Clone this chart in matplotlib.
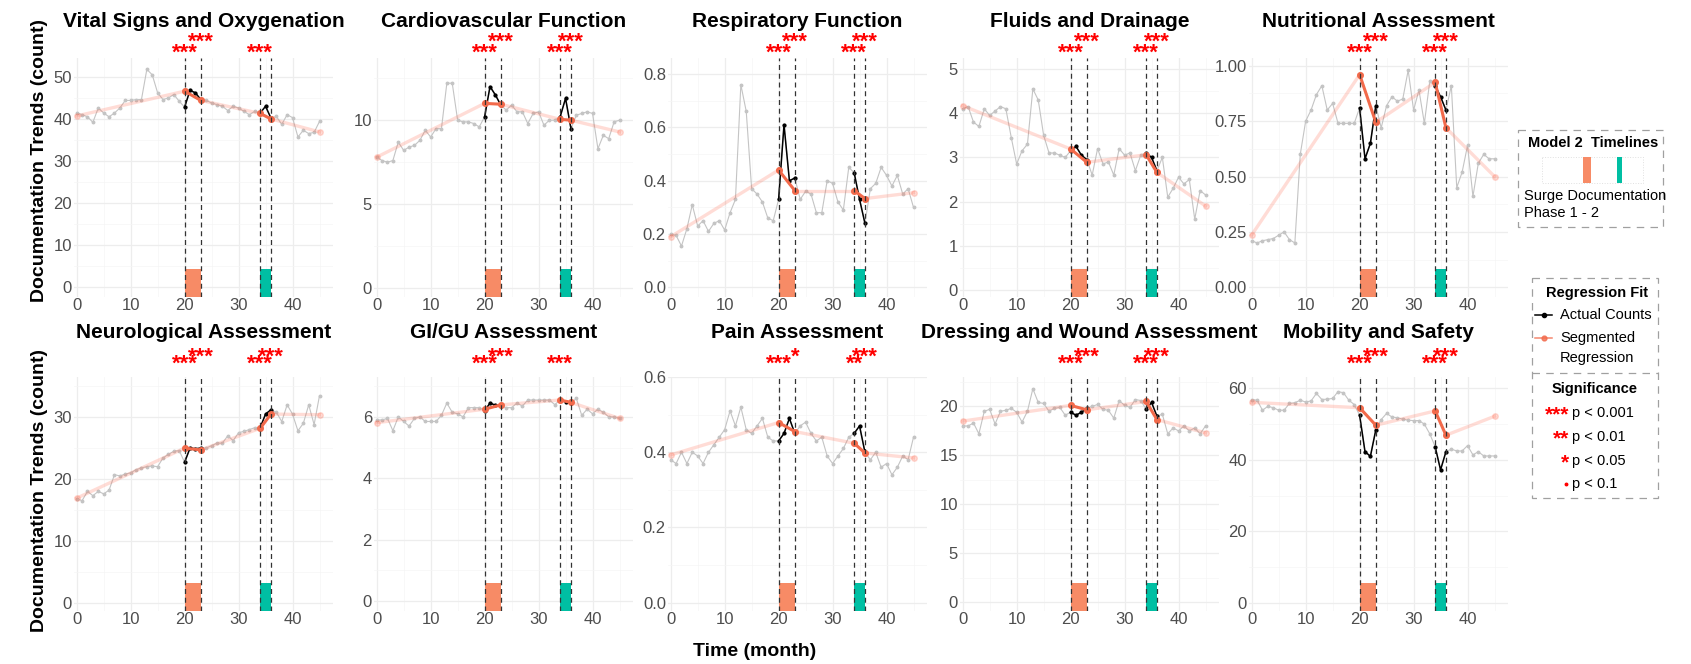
import numpy as np
import matplotlib
matplotlib.use("Agg")
import matplotlib.pyplot as plt
from matplotlib.patches import Rectangle
from matplotlib.ticker import MultipleLocator, FormatStrFormatter
from matplotlib.transforms import blended_transform_factory

plt.rcParams['font.family'] = ['Liberation Sans', 'DejaVu Sans']

# ---------------- data ----------------
months = np.arange(46)
knots = [0, 20, 23, 34, 36, 45]          # segmented regression break points
phase1 = (20, 23)                        # surge documentation phase 1
phase2 = (34, 36)                        # surge documentation phase 2

titles = ["Vital Signs and Oxygenation", "Cardiovascular Function", "Respiratory Function",
          "Fluids and Drainage", "Nutritional Assessment", "Neurological Assessment",
          "GI/GU Assessment", "Pain Assessment", "Dressing and Wound Assessment",
          "Mobility and Safety"]

vital = [41.5, 41.0, 40.5, 39.2, 42.6, 41.4, 40.5, 41.4, 42.6, 44.4, 44.4, 44.6, 44.6, 51.8,
         50.5, 46.2, 44.6, 45.0, 45.8, 44.2, 42.8, 46.8, 46.2, 44.6, 44.4, 43.8, 43.4, 43.0,
         42.0, 43.0, 42.6, 41.8, 41.0, 41.8, 41.4, 43.0, 40.2, 40.6, 38.7, 41.0, 40.3, 35.7,
         37.3, 36.5, 36.8, 39.4]
cardio = [7.8, 7.6, 7.5, 7.6, 8.7, 8.2, 8.4, 8.5, 8.8, 9.4, 9.0, 9.5, 9.5, 12.2, 12.2, 10.0,
          9.9, 9.9, 9.8, 9.6, 10.2, 12.0, 11.5, 10.9, 10.6, 10.9, 10.5, 10.5, 9.8, 10.4, 10.5,
          9.7, 10.0, 10.0, 10.2, 11.3, 9.5, 10.3, 10.4, 10.5, 10.4, 8.3, 9.1, 8.9, 9.9, 10.0]
resp = [0.20, 0.195, 0.155, 0.22, 0.31, 0.23, 0.25, 0.21, 0.24, 0.25, 0.215, 0.28, 0.33, 0.76,
        0.66, 0.37, 0.35, 0.32, 0.26, 0.25, 0.33, 0.61, 0.40, 0.41, 0.33, 0.36, 0.35, 0.28,
        0.28, 0.40, 0.39, 0.32, 0.29, 0.45, 0.43, 0.33, 0.24, 0.37, 0.39, 0.45, 0.42, 0.38,
        0.42, 0.35, 0.37, 0.30]
fluids = [4.10, 4.15, 3.80, 3.70, 4.10, 3.95, 4.05, 4.15, 4.10, 3.45, 2.85, 3.15, 3.30, 4.55,
          4.30, 3.50, 3.10, 3.10, 3.05, 3.00, 3.15, 3.25, 3.05, 2.95, 2.60, 3.20, 2.85, 2.90,
          2.60, 3.20, 3.05, 3.10, 2.70, 3.05, 3.10, 3.00, 2.70, 3.00, 2.10, 2.30, 2.55, 2.40,
          2.50, 1.60, 2.25, 2.15]
nutrition = [0.21, 0.20, 0.21, 0.215, 0.22, 0.235, 0.25, 0.215, 0.20, 0.60, 0.75, 0.80, 0.87,
             0.91, 0.80, 0.83, 0.74, 0.74, 0.74, 0.74, 0.81, 0.58, 0.65, 0.82, 0.72, 0.82, 0.86,
             0.84, 0.85, 0.98, 0.80, 0.89, 0.74, 0.93, 0.91, 0.86, 0.80, 0.91, 0.45, 0.52, 0.64,
             0.41, 0.56, 0.60, 0.58, 0.58]
neuro = [16.8, 16.5, 18.0, 17.3, 18.0, 17.6, 18.2, 20.7, 20.5, 20.8, 21.0, 21.5, 21.8, 22.0,
         22.1, 22.0, 23.4, 24.0, 24.5, 24.6, 22.7, 25.0, 24.9, 25.0, 25.0, 25.4, 25.8, 25.8,
         27.0, 26.2, 27.5, 27.7, 28.0, 28.3, 28.3, 30.5, 31.2, 30.8, 29.3, 32.0, 30.5, 27.8,
         29.0, 32.0, 28.8, 33.5]
gigu = [5.90, 5.90, 5.95, 5.55, 6.00, 5.85, 5.70, 5.95, 6.00, 5.85, 5.85, 5.85, 6.05, 6.45,
        6.15, 6.10, 6.00, 6.30, 6.30, 6.30, 6.20, 6.45, 6.38, 6.35, 6.30, 6.30, 6.45, 6.35,
        6.55, 6.55, 6.55, 6.55, 6.55, 6.40, 6.55, 6.50, 6.45, 6.60, 6.05, 6.25, 6.10, 6.25,
        6.15, 6.00, 6.00, 5.95]
pain = [0.38, 0.37, 0.40, 0.37, 0.40, 0.39, 0.37, 0.40, 0.42, 0.44, 0.46, 0.51, 0.47, 0.52,
        0.46, 0.45, 0.47, 0.49, 0.44, 0.43, 0.43, 0.45, 0.49, 0.45, 0.47, 0.48, 0.45, 0.43,
        0.44, 0.39, 0.37, 0.39, 0.41, 0.44, 0.45, 0.47, 0.40, 0.38, 0.40, 0.36, 0.37, 0.34,
        0.36, 0.39, 0.38, 0.44]
dressing = [18.0, 18.0, 18.3, 17.2, 19.5, 19.7, 18.2, 19.5, 19.6, 19.8, 19.4, 18.4, 19.5, 21.8,
            20.4, 20.3, 19.5, 19.8, 19.9, 19.1, 19.4, 19.1, 19.4, 19.8, 20.0, 20.2, 19.7, 19.6,
            18.8, 20.6, 20.1, 19.9, 20.7, 20.6, 19.7, 20.4, 19.0, 19.2, 17.2, 17.8, 17.5, 18.0,
            17.5, 17.8, 17.2, 18.0]
mobility = [56.9, 56.7, 53.9, 55.0, 54.6, 53.9, 53.9, 55.8, 56.0, 56.7, 56.2, 56.5, 58.6, 56.9,
            57.0, 57.2, 59.1, 58.8, 56.7, 55.5, 52.5, 42.3, 41.0, 48.4, 51.3, 53.0, 52.0, 51.8,
            51.4, 51.1, 51.0, 51.0, 50.0, 47.3, 43.7, 37.2, 42.3, 43.0, 42.5, 42.5, 44.0, 41.4,
            42.3, 41.1, 41.1, 41.1]

series = [vital, cardio, resp, fluids, nutrition, neuro, gigu, pain, dressing, mobility]

# fitted values of the segmented regression at the knots
fits = [
    [40.7, 46.6, 44.4, 41.3, 40.0, 36.9],
    [7.8, 11.0, 10.95, 10.05, 10.0, 9.3],
    [0.19, 0.44, 0.363, 0.363, 0.333, 0.355],
    [4.17, 3.19, 2.89, 3.06, 2.66, 1.9],
    [0.236, 0.96, 0.745, 0.925, 0.72, 0.50],
    [16.9, 25.0, 24.7, 28.2, 30.5, 30.4],
    [5.81, 6.25, 6.39, 6.55, 6.47, 5.95],
    [0.393, 0.479, 0.455, 0.424, 0.398, 0.385],
    [18.5, 20.1, 19.65, 20.5, 18.65, 17.3],
    [56.1, 54.6, 49.7, 53.7, 46.9, 52.2],
]

# significance markers at the four break points (20, 23, 34, 36)
stars = [
    ["***", "***", "***", ""],
    ["***", "***", "***", "***"],
    ["***", "***", "***", "***"],
    ["***", "***", "***", "***"],
    ["***", "***", "***", "***"],
    ["***", "***", "***", "***"],
    ["***", "***", "***", ""],
    ["***", "*", "**", "***"],
    ["***", "***", "***", "***"],
    ["***", "***", "***", "***"],
]

# ---------------- layout / style ----------------
W, H = 1691, 664
col_left = [74, 374, 668, 960, 1249]
ax_w = 259
rows_px = [(58, 297), (377, 611)]
y_lo = [-2.4, -0.52, -0.036, -0.16, -0.044, -1.35, -0.33, -0.022, -0.89, -2.3]
y_hi = [54.5, 13.7, 0.86, 5.25, 1.035, 36.5, 7.3, 0.60, 23.0, 63.2]
y_step = [10, 5, 0.2, 1, 0.25, 10, 2, 0.2, 5, 20]
y_fmt = ['%.0f', '%.0f', '%.1f', '%.0f', '%.2f', '%.0f', '%.0f', '%.1f', '%.0f', '%.0f']
star_px = [(-0.5, 10.5), (7, 14)]     # baseline offsets above panel top (lower, upper)
title_pad = [22, 28]

GREY = '#C4C4C4'
FITC = '#FF6347'
ORANGE = '#F26A4B'
BAR1 = '#F78B66'
BAR2 = '#00BFA3'
TICKC = '#4D4D4D'

fig = plt.figure(figsize=(W / 100, H / 100), dpi=100)


def draw_panel(ax, i, row):
    y = np.array(series[i])
    f = fits[i]
    ax.set_xlim(-0.5, 47.5)
    ax.set_ylim(y_lo[i], y_hi[i])
    for s in ax.spines.values():
        s.set_visible(False)
    ax.xaxis.set_major_locator(MultipleLocator(10))
    ax.xaxis.set_minor_locator(MultipleLocator(5))
    ax.yaxis.set_major_locator(MultipleLocator(y_step[i]))
    ax.yaxis.set_minor_locator(MultipleLocator(y_step[i] / 2))
    ax.yaxis.set_major_formatter(FormatStrFormatter(y_fmt[i]))
    ax.tick_params(which='both', length=0, labelsize=12, labelcolor=TICKC)
    ax.tick_params(axis='x', pad=1)
    ax.tick_params(axis='y', pad=1.5)
    ax.grid(True, which='major', color='#EDEDED', lw=0.9)
    ax.grid(True, which='minor', color='#F5F5F5', lw=0.5)
    ax.set_axisbelow(True)

    # all observations in grey
    ax.plot(months, y, color=GREY, lw=0.8, marker='o', ms=1.8, zorder=2)

    # segmented regression
    for k in range(5):
        xs, ys = knots[k:k + 2], f[k:k + 2]
        if k in (1, 3):
            ax.plot(xs, ys, color=ORANGE, lw=2.2, marker='o', ms=4, zorder=6)
        else:
            ax.plot(xs, ys, color=FITC, alpha=0.22, lw=2.4, marker='o', ms=4, zorder=3)

    # surge phases in black
    for a, b in (phase1, phase2):
        m = (months >= a) & (months <= b)
        ax.plot(months[m], y[m], color='black', lw=1.1, marker='o', ms=2.0, zorder=5)

    tr = blended_transform_factory(ax.transData, ax.transAxes)
    ax.add_patch(Rectangle((phase1[0], 0), phase1[1] - phase1[0], 0.118, transform=tr,
                           color=BAR1, lw=0, zorder=4))
    ax.add_patch(Rectangle((phase2[0], 0), phase2[1] - phase2[0], 0.118, transform=tr,
                           color=BAR2, lw=0, zorder=4))
    for xv in (phase1[0], phase1[1], phase2[0], phase2[1]):
        ax.axvline(xv, color='#333333', lw=0.9, ls=(0, (4, 3)), zorder=7)

    lo, up = star_px[row]
    for xv, lab, off in zip(knots[1:5], stars[i], (lo, up, lo, up)):
        if lab:
            ax.annotate(lab, xy=(xv, 1), xycoords=tr, xytext=(0, off * 0.72),
                        textcoords='offset points', ha='center', va='baseline',
                        color='red', fontsize=16, fontweight='bold', annotation_clip=False)

    ax.set_title(titles[i], fontsize=15, fontweight='bold', pad=title_pad[row])


for i in range(10):
    row, col = divmod(i, 5)
    top, bot = rows_px[row]
    ax = fig.add_axes([col_left[col] / W, 1 - bot / H, ax_w / W, (bot - top) / H])
    draw_panel(ax, i, row)

# ---------------- overlay: axis titles + legends ----------------
ov = fig.add_axes([0, 0, 1, 1], zorder=10)
ov.set_xlim(0, W)
ov.set_ylim(H, 0)
ov.axis('off')

for yc in (160, 490):
    ov.text(40, yc, "Documentation Trends (count)", rotation=90, ha='center', va='center',
            fontsize=14, fontweight='bold')
ov.text(755, 652, "Time (month)", ha='center', va='center', fontsize=14, fontweight='bold')

dash = (0, (6, 5))
ov.add_patch(Rectangle((1518, 130), 145, 97, fill=False, ec='#A0A0A0', lw=0.9, ls=dash))
ov.text(1593, 143, "Model 2  Timelines", ha='center', va='center', fontsize=10.5,
        fontweight='bold')
ov.add_patch(Rectangle((1542, 157), 101, 26, fill=False, ec='#E0E0E0', lw=0.7, ls=':'))
ov.add_patch(Rectangle((1583, 157), 8, 26, color=BAR1, lw=0))
ov.add_patch(Rectangle((1617, 157), 5, 26, color=BAR2, lw=0))
ov.text(1524, 196, "Surge Documentation", ha='left', va='center', fontsize=10.5)
ov.text(1524, 213, "Phase 1 - 2", ha='left', va='center', fontsize=10.5)

ov.add_patch(Rectangle((1532, 278), 126, 220, fill=False, ec='#A0A0A0', lw=0.9, ls=dash))
ov.plot([1532, 1658], [373, 373], color='#A0A0A0', lw=0.9, ls=dash)
ov.text(1597, 293, "Regression Fit", ha='center', va='center', fontsize=10.5, fontweight='bold')
ov.plot([1535, 1552], [315, 315], color='black', lw=1.1)
ov.plot([1543.5], [315], color='black', marker='o', ms=3)
ov.text(1560, 315, "Actual Counts", ha='left', va='center', fontsize=10.5)
ov.plot([1535, 1552], [338, 338], color=ORANGE, alpha=0.8, lw=1.1)
ov.plot([1543.5], [338], color=ORANGE, alpha=0.8, marker='o', ms=3.5)
ov.text(1560, 338, "Segmented", ha='left', va='center', fontsize=10.5)
ov.text(1560, 358, "Regression", ha='left', va='center', fontsize=10.5)
ov.text(1595, 389, "Significance", ha='center', va='center', fontsize=10.5, fontweight='bold')
for yc, lab, txt in zip((413, 437, 461), ("***", "**", "*"), ("p < 0.001", "p < 0.01", "p < 0.05")):
    ov.text(1569, yc + 7, lab, ha='right', va='baseline', color='red', fontsize=15,
            fontweight='bold')
    ov.text(1572, yc, txt, ha='left', va='center', fontsize=10.5)
ov.plot([1566], [484], color='red', marker='o', ms=1.8)
ov.text(1572, 484, "p < 0.1", ha='left', va='center', fontsize=10.5)

fig.savefig("out.png", dpi=100)
